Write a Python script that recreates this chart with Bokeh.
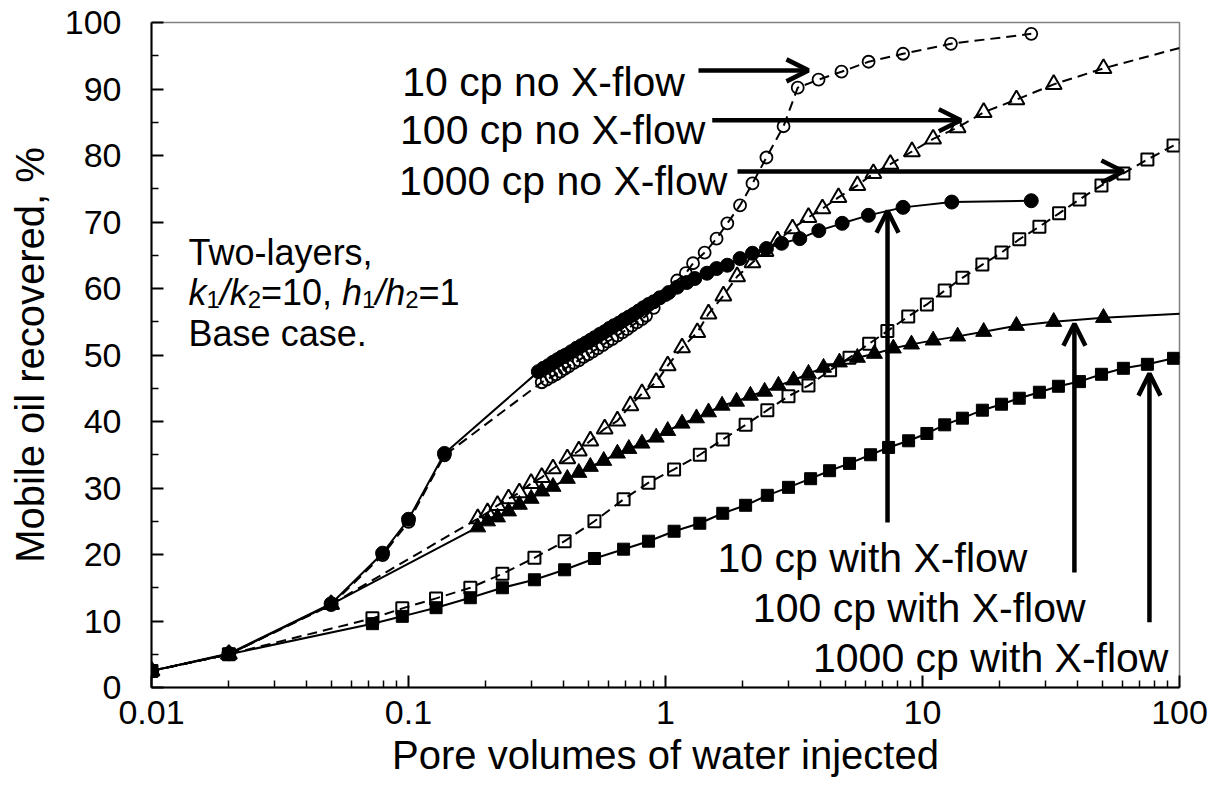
from bokeh.plotting import figure
from bokeh.models import FixedTicker, Arrow, OpenHead, Label, CustomJSTickFormatter
from bokeh.embed import file_html
from bokeh.resources import INLINE

# ---------------- data ----------------
# 10 cp, no cross-flow (open circles, dashed)
pv_10_nox = [0.01, 0.02, 0.05, 0.0793, 0.1, 0.138, 0.33, 0.345, 0.36, 0.375, 0.39, 0.405,
             0.42, 0.44, 0.46, 0.48, 0.5, 0.52, 0.545, 0.57, 0.595, 0.62, 0.65, 0.68, 0.71,
             0.74, 0.775, 0.81, 0.84, 0.9, 1.0, 1.11, 1.2, 1.28, 1.42, 1.58, 1.74, 1.95,
             2.18, 2.47, 2.88, 3.27, 3.94, 4.84, 6.17, 8.4, 12.9, 26.5]
rec_10_nox = [2.5, 5.0, 12.4, 19.9, 24.9, 34.9, 45.9, 46.3, 46.7, 47.1, 47.5, 47.9,
              48.3, 48.8, 49.2, 49.7, 50.1, 50.5, 51.0, 51.5, 52.0, 52.4, 52.9, 53.4, 53.9,
              54.4, 54.9, 55.4, 55.9, 57.1, 59.0, 61.2, 62.3, 63.8, 65.4, 67.5, 69.8, 72.5,
              75.8, 79.7, 84.4, 90.2, 91.4, 92.6, 94.1, 95.3, 96.8, 98.3]

# 10 cp, with cross-flow (filled circles, solid)
pv_10_x = [0.01, 0.02, 0.05, 0.0793, 0.1, 0.138, 0.32, 0.335, 0.35, 0.365, 0.38, 0.395,
           0.41, 0.43, 0.45, 0.47, 0.49, 0.51, 0.53, 0.555, 0.58, 0.605, 0.63, 0.66, 0.69,
           0.72, 0.75, 0.785, 0.82, 0.86, 0.9, 0.95, 1.03, 1.11, 1.21, 1.3, 1.45, 1.58,
           1.74, 1.95, 2.18, 2.47, 2.83, 3.33, 3.95, 4.87, 6.16, 8.4, 13.0, 26.5]
rec_10_x = [2.5, 5.1, 12.6, 20.2, 25.3, 35.2, 47.5, 48.0, 48.4, 48.9, 49.3, 49.7,
            50.0, 50.5, 51.0, 51.4, 51.8, 52.2, 52.6, 53.1, 53.5, 54.0, 54.4, 54.8, 55.3,
            55.7, 56.1, 56.6, 57.1, 57.6, 58.0, 58.6, 59.4, 60.2, 60.9, 61.5, 62.3, 63.0,
            63.5, 64.5, 65.3, 66.0, 66.8, 67.5, 68.7, 69.8, 71.0, 72.2, 73.0, 73.2]

# 100 cp, no cross-flow (open triangles, dashed)
pv_100_nox = [0.01, 0.02, 0.05, 0.186, 0.203, 0.222, 0.245, 0.27, 0.30, 0.33, 0.365, 0.415,
              0.46, 0.51, 0.58, 0.65, 0.73, 0.81, 0.92, 1.02, 1.16, 1.33, 1.47, 1.68, 1.90,
              2.18, 2.45, 2.73, 3.12, 3.6, 4.08, 4.71, 5.58, 6.44, 7.5, 9.1, 11.0, 13.7,
              17.3, 23.2, 32.4, 50.6, 110]
rec_100_nox = [2.5, 5.0, 12.5, 25.4, 26.3, 27.4, 28.4, 29.3, 30.7, 31.6, 32.9, 34.4,
               35.6, 37.1, 38.9, 40.1, 42.4, 44.2, 45.9, 48.4, 51.1, 53.4, 56.2, 58.9, 61.8,
               63.9, 65.6, 67.2, 69.0, 70.7, 72.0, 73.7, 75.5, 77.3, 78.7, 80.6, 82.5, 84.2,
               86.5, 88.4, 90.7, 93.1, 96.6]

# 100 cp, with cross-flow (filled triangles, solid)
pv_100_x = [0.01, 0.02, 0.05, 0.186, 0.203, 0.222, 0.245, 0.27, 0.30, 0.33, 0.365, 0.415,
            0.46, 0.51, 0.575, 0.65, 0.72, 0.81, 0.92, 1.02, 1.16, 1.32, 1.47, 1.66, 1.89,
            2.14, 2.43, 2.75, 3.15, 3.6, 4.12, 4.75, 5.58, 6.5, 7.7, 9.06, 11.0, 13.7,
            17.3, 23.2, 32.4, 50.6, 110]
rec_100_x = [2.5, 5.0, 12.5, 24.1, 25.0, 25.6, 26.5, 27.5, 28.4, 29.5, 30.2, 31.4,
             32.3, 33.2, 34.1, 35.2, 35.9, 36.7, 37.6, 38.6, 39.7, 40.5, 41.4, 42.4, 43.0,
             43.9, 44.5, 45.4, 46.2, 47.2, 48.1, 48.9, 49.6, 50.2, 51.0, 51.6, 52.2, 52.8,
             53.5, 54.4, 55.0, 55.6, 56.3]

# 1000 cp, no cross-flow (open squares, dashed)
pv_1000_nox = [0.01, 0.02, 0.0724, 0.0946, 0.128, 0.174, 0.232, 0.309, 0.405, 0.529, 0.687,
               0.859, 1.08, 1.36, 1.67, 2.05, 2.49, 3.01, 3.6, 4.37, 5.2, 6.2, 7.3, 8.8,
               10.4, 12.2, 14.3, 17.1, 20.3, 23.8, 28.5, 34.0, 40.8, 49.7, 60.5, 75.0, 94.8, 110]
rec_1000_nox = [2.5, 5.0, 10.4, 11.9, 13.4, 15.0, 17.1, 19.5, 22.0, 25.0, 28.3,
                30.8, 32.8, 35.0, 37.3, 39.5, 41.7, 43.8, 45.4, 47.7, 49.6, 51.7, 53.6, 55.8,
                57.6, 59.7, 61.6, 63.6, 65.4, 67.4, 69.3, 71.3, 73.4, 75.5, 77.3, 79.4, 81.5, 82.6]

# 1000 cp, with cross-flow (filled squares, solid)
pv_1000_x = [0.01, 0.02, 0.0724, 0.0946, 0.128, 0.174, 0.232, 0.309, 0.405, 0.529, 0.687,
             0.859, 1.08, 1.36, 1.67, 2.05, 2.49, 3.01, 3.67, 4.35, 5.2, 6.28, 7.38, 8.83,
             10.4, 12.2, 14.3, 17.1, 20.3, 23.8, 28.5, 33.8, 40.8, 49.7, 60.5, 75.0, 94.8, 110]
rec_1000_x = [2.5, 5.0, 9.6, 10.7, 12.0, 13.5, 15.0, 16.2, 17.7, 19.4, 20.8,
              22.0, 23.5, 24.7, 26.2, 27.4, 28.9, 30.1, 31.4, 32.6, 33.7, 35.0, 36.1, 37.1,
              38.2, 39.5, 40.5, 41.7, 42.6, 43.5, 44.4, 45.3, 46.0, 47.1, 48.0, 48.6, 49.5, 50.0]

# tick labels
x_major_ticks = [0.01, 0.1, 1, 10, 100]
y_major_ticks = [0, 10, 20, 30, 40, 50, 60, 70, 80, 90, 100]
y_minor_ticks = [5, 15, 25, 35, 45, 55, 65, 75, 85, 95]

# annotations: text, x (right edge), baseline y
note_texts = ["10 cp no X-flow", "100 cp no X-flow", "1000 cp no X-flow",
              "10 cp with X-flow", "100 cp with X-flow", "1000 cp with X-flow"]
note_x = [1.19, 1.43, 1.74, 25.6, 43.1, 90.6]
note_y = [91.0, 83.8, 76.2, 19.5, 12.0, 4.5]

# arrows: start (x, y) -> end (x, y)
arrow_x0 = [1.344, 1.52, 1.906, 7.31, 39.0, 76.4]
arrow_y0 = [92.8, 85.3, 77.6, 24.8, 17.3, 9.8]
arrow_x1 = [3.6, 14.1, 60.5, 7.31, 39.0, 76.4]
arrow_y1 = [92.8, 85.3, 77.6, 71.7, 54.7, 47.2]

FONT = "Liberation Sans"

p = figure(width=1219, height=803, x_axis_type="log",
           x_range=(0.01, 100), y_range=(0, 100),
           output_backend="svg", toolbar_location=None,
           min_border_left=151, min_border_right=40,
           min_border_top=22, min_border_bottom=116,
           background_fill_color="white", border_fill_color="white")

p.xgrid.visible = False
p.ygrid.visible = False
p.outline_line_color = "#808080"
p.outline_line_width = 1.5

minor_x = [d * k for d in x_major_ticks[:-1] for k in range(2, 10)]
p.xaxis.ticker = FixedTicker(ticks=x_major_ticks, minor_ticks=minor_x)
p.xaxis.formatter = CustomJSTickFormatter(code="return String(tick)")
p.yaxis.ticker = FixedTicker(ticks=y_major_ticks, minor_ticks=y_minor_ticks)

p.xaxis.axis_label = "Pore volumes of water injected"
p.yaxis.axis_label = "Mobile oil recovered, %"

for ax in (p.xaxis[0], p.yaxis[0]):
    ax.axis_line_color = "black"
    ax.axis_line_width = 2
    ax.major_tick_in = 12
    ax.major_tick_out = 0
    ax.minor_tick_in = 7
    ax.minor_tick_out = 0
    ax.major_tick_line_color = "black"
    ax.minor_tick_line_color = "black"
    ax.major_tick_line_width = 2
    ax.minor_tick_line_width = 1.5
    ax.major_label_text_font = FONT
    ax.major_label_text_font_size = "34px"
    ax.major_label_text_color = "black"
    ax.axis_label_text_font = FONT
    ax.axis_label_text_font_size = "40px"
    ax.axis_label_text_font_style = "normal"
    ax.axis_label_text_color = "black"

p.yaxis.major_label_standoff = 30
p.xaxis.major_label_standoff = 13
p.yaxis.axis_label_standoff = 10
p.xaxis.axis_label_standoff = 6

DASH = "10 6"
LW = 2

# 1000 cp with X-flow
p.line(pv_1000_x, rec_1000_x, line_color="black", line_width=LW)
p.scatter(pv_1000_x, rec_1000_x, marker="square", size=12, fill_color="black",
          line_color="black", line_width=1)
# 1000 cp no X-flow
p.line(pv_1000_nox, rec_1000_nox, line_color="black", line_width=LW, line_dash=DASH)
p.scatter(pv_1000_nox, rec_1000_nox, marker="square", size=12, fill_color=None,
          line_color="black", line_width=2)
# 100 cp with X-flow
p.line(pv_100_x, rec_100_x, line_color="black", line_width=LW)
p.scatter(pv_100_x, rec_100_x, marker="triangle", size=16, fill_color="black",
          line_color="black", line_width=1)
# 100 cp no X-flow
p.line(pv_100_nox, rec_100_nox, line_color="black", line_width=LW, line_dash=DASH)
p.scatter(pv_100_nox, rec_100_nox, marker="triangle", size=16, fill_color=None,
          line_color="black", line_width=2)
# 10 cp no X-flow
p.line(pv_10_nox, rec_10_nox, line_color="black", line_width=LW, line_dash=DASH)
p.scatter(pv_10_nox, rec_10_nox, marker="circle", size=12, fill_color=None,
          line_color="black", line_width=1.8)
# 10 cp with X-flow
p.line(pv_10_x, rec_10_x, line_color="black", line_width=LW)
p.scatter(pv_10_x, rec_10_x, marker="circle", size=14, fill_color="black",
          line_color="black", line_width=1)

# arrows
for xa, ya, xb, yb in zip(arrow_x0, arrow_y0, arrow_x1, arrow_y1):
    p.add_layout(Arrow(x_start=xa, y_start=ya, x_end=xb, y_end=yb,
                       line_color="black", line_width=4.5,
                       end=OpenHead(size=22, line_color="black", line_width=4.5)))

# annotation texts
for t, xx, yy in zip(note_texts, note_x, note_y):
    p.add_layout(Label(x=xx, y=yy, text=t, text_align="right", text_baseline="alphabetic",
                       text_font=FONT, text_font_size="41px", text_color="black"))

# left-hand description
desc_x = 0.01394
p.add_layout(Label(x=desc_x, y=65.4, text="Two-layers,", text_font=FONT,
                   text_font_size="36px", text_baseline="alphabetic", text_color="black"))
p.add_layout(Label(x=desc_x, y=53.2, text="Base case.", text_font=FONT,
                   text_font_size="36px", text_baseline="alphabetic", text_color="black"))
# k1/k2=10, h1/h2=1 built from pieces: (text, x offset px, subscript?, italic?)
pieces = [("k", 0, False, True), ("1", 18.0, True, False), ("/", 31.2, False, True),
          ("k", 41.1, False, True), ("2", 59.1, True, False), ("=10,", 72.3, False, False),
          ("h", 153.4, False, True), ("1", 173.4, True, False), ("/", 186.6, False, True),
          ("h", 196.6, False, True), ("2", 216.6, True, False), ("=1", 229.8, False, False)]
for txt, off, sub, ital in pieces:
    p.add_layout(Label(x=desc_x, y=59.4, x_offset=off, y_offset=(-7 if sub else 0),
                       text=txt, text_font=FONT,
                       text_font_size=("24px" if sub else "36px"),
                       text_font_style=("italic" if ital else "normal"),
                       text_baseline="alphabetic", text_color="black"))

open("out.html", "w").write(file_html(p, INLINE))
